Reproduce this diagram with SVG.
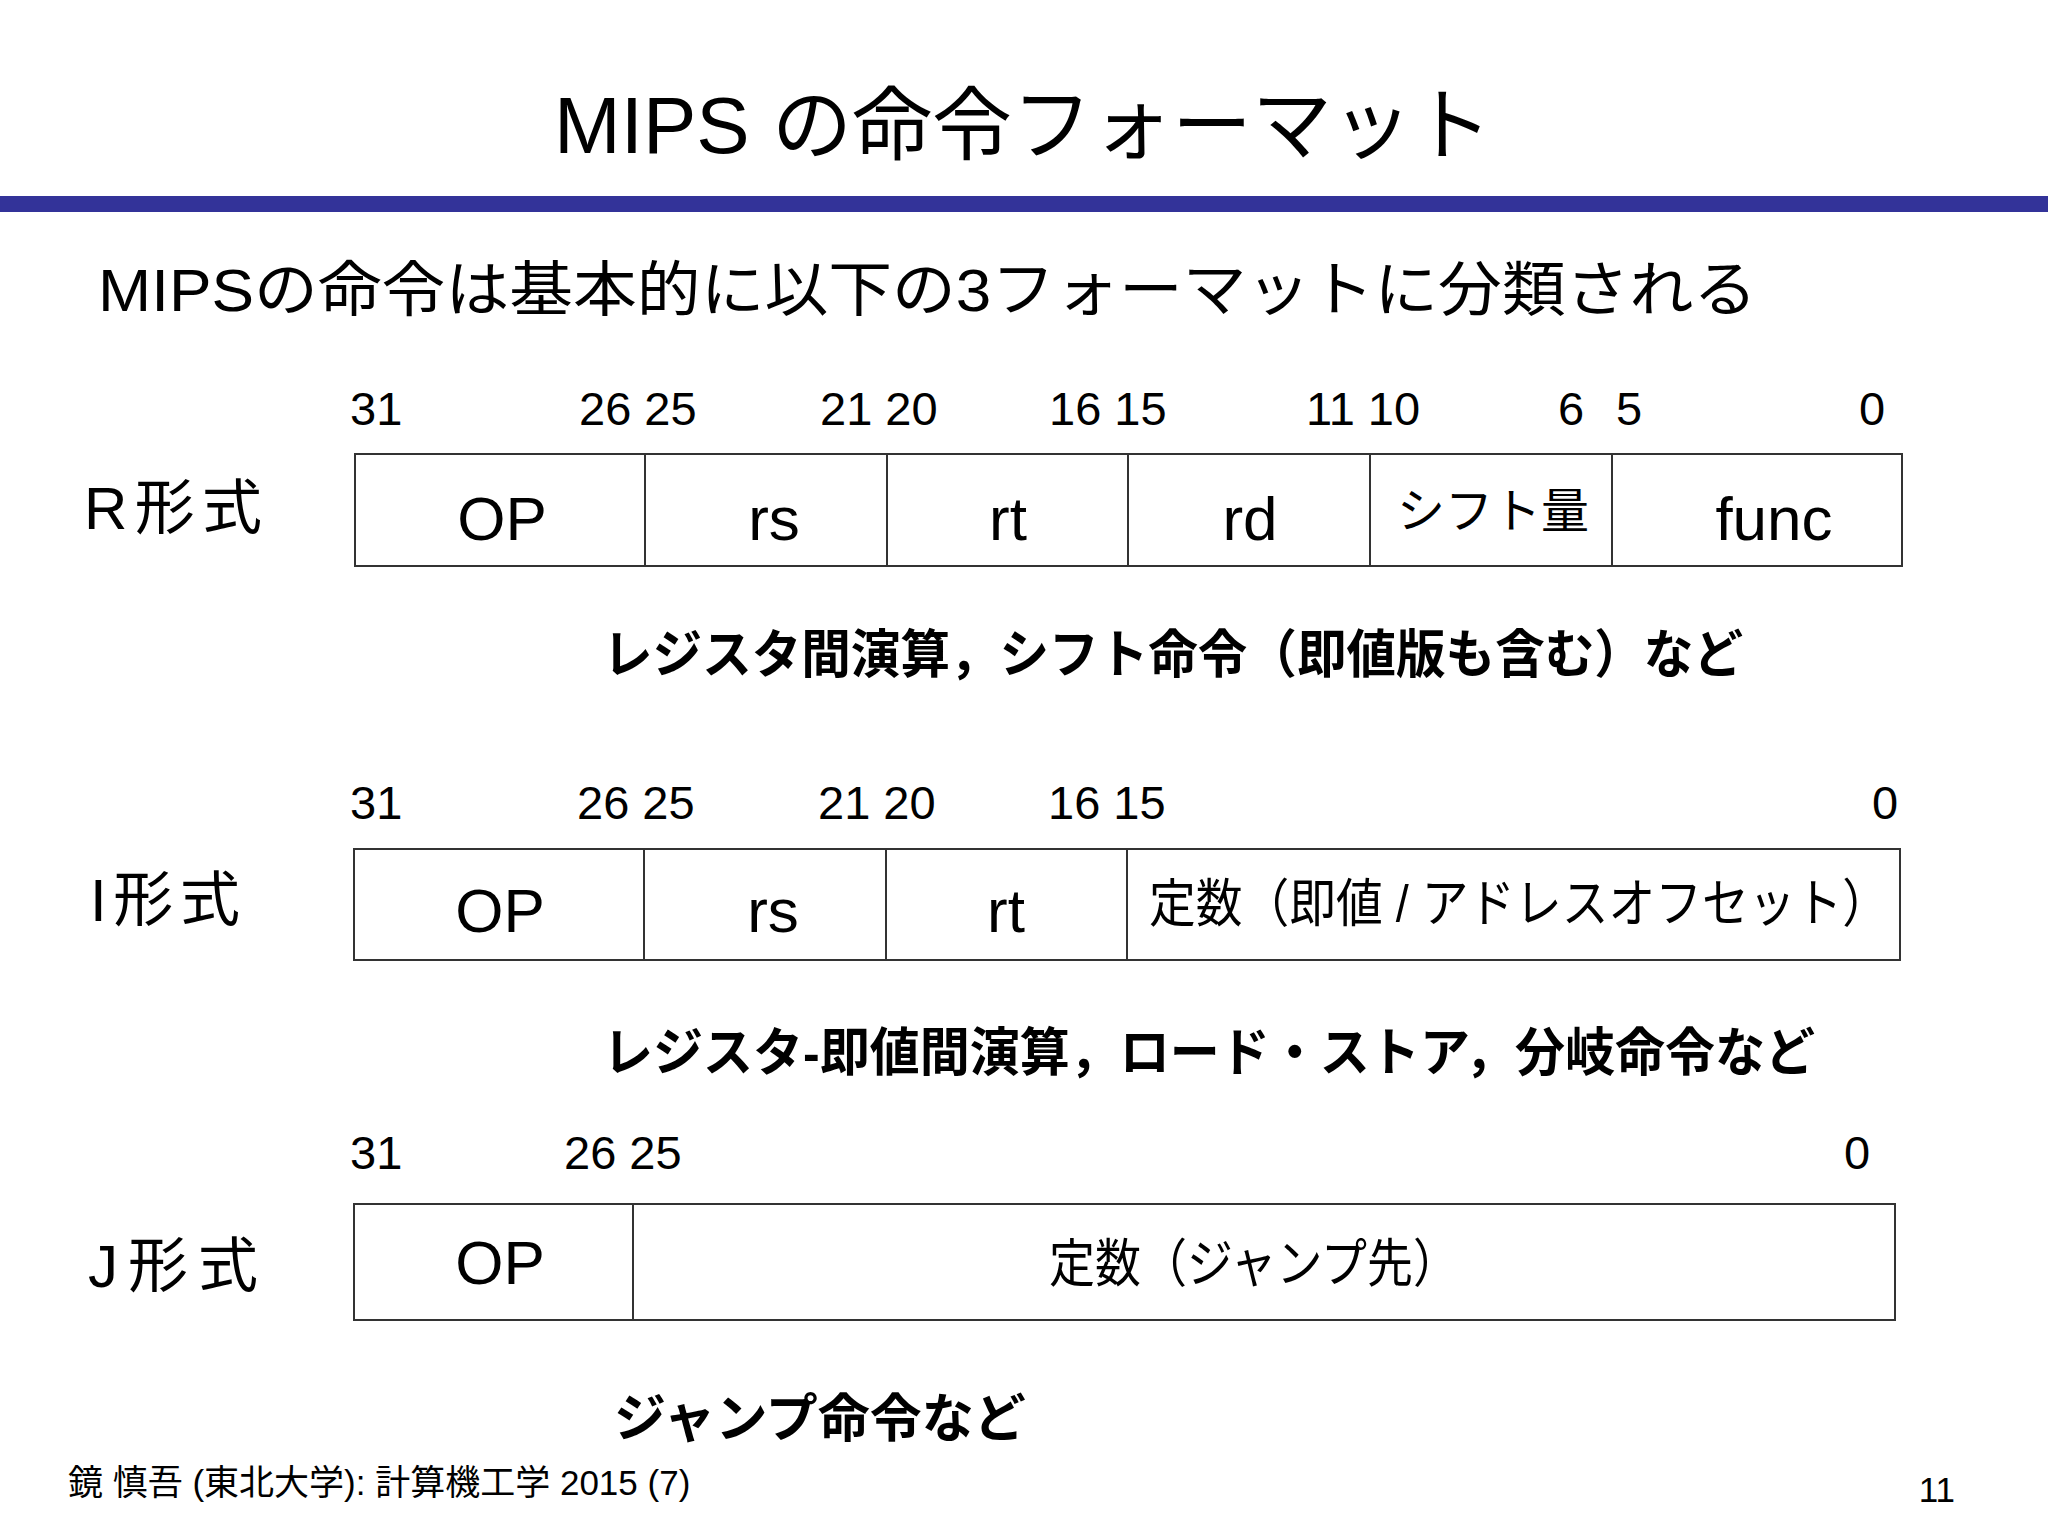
<svg xmlns="http://www.w3.org/2000/svg" width="2048" height="1536" viewBox="0 0 2048 1536">
<style>
text{font-family:"Liberation Sans","Noto Sans CJK JP",sans-serif;fill:#000}
.num{font-size:47px}
.lbl{font-size:60px}
.cell{font-size:62px;text-anchor:middle}
.cap{font-size:52px;font-weight:bold}
.box{fill:#fff;stroke:#333;stroke-width:2}
.sep{stroke:#333;stroke-width:2}
</style>
<rect width="2048" height="1536" fill="#fff"/>
<text x="1023" y="153" font-size="80" text-anchor="middle">MIPS の命令フォーマット</text>
<rect x="0" y="196" width="2048" height="16" fill="#333399"/>
<text x="98" y="311" font-size="60" textLength="1659" lengthAdjust="spacingAndGlyphs">MIPSの命令は基本的に以下の3フォーマットに分類される</text>
<g id="r-format">
<text class="num" x="350" y="425">31</text><text class="num" x="579" y="425">26 25</text><text class="num" x="820" y="425">21 20</text><text class="num" x="1049" y="425">16 15</text><text class="num" x="1306" y="425">11 10</text><text class="num" x="1558" y="425">6</text><text class="num" x="1616" y="425">5</text><text class="num" x="1859" y="425">0</text>
<text class="lbl" x="84" y="529" textLength="178">R形式</text>
<rect class="box" x="355" y="454" width="1547" height="112"/>
<line class="sep" x1="645" y1="454" x2="645" y2="566"/><line class="sep" x1="887" y1="454" x2="887" y2="566"/><line class="sep" x1="1128" y1="454" x2="1128" y2="566"/><line class="sep" x1="1370" y1="454" x2="1370" y2="566"/><line class="sep" x1="1612" y1="454" x2="1612" y2="566"/>
<text class="cell" x="502" y="540">OP</text><text class="cell" x="774" y="540">rs</text><text class="cell" x="1008" y="540">rt</text><text class="cell" x="1250" y="540">rd</text><text x="1493" y="528" font-size="48" text-anchor="middle">シフト量</text><text class="cell" x="1774" y="540">func</text>
<text class="cap" x="603" y="673" textLength="1140" lengthAdjust="spacingAndGlyphs">レジスタ間演算，シフト命令（即値版も含む）など</text>
</g>
<g id="i-format">
<text class="num" x="350" y="819">31</text><text class="num" x="577" y="819">26 25</text><text class="num" x="818" y="819">21 20</text><text class="num" x="1048" y="819">16 15</text><text class="num" x="1872" y="819">0</text>
<text class="lbl" x="90" y="921" textLength="150">I形式</text>
<rect class="box" x="354" y="849" width="1546" height="111"/>
<line class="sep" x1="644" y1="849" x2="644" y2="960"/><line class="sep" x1="886" y1="849" x2="886" y2="960"/><line class="sep" x1="1127" y1="849" x2="1127" y2="960"/>
<text class="cell" x="500" y="932">OP</text><text class="cell" x="773" y="932">rs</text><text class="cell" x="1006" y="932">rt</text>
<text x="1149" y="922" font-size="52" textLength="740" lengthAdjust="spacingAndGlyphs">定数（即値 / アドレスオフセット）</text>
<text class="cap" x="603" y="1071" textLength="1212" lengthAdjust="spacingAndGlyphs">レジスタ-即値間演算，ロード・ストア，分岐命令など</text>
</g>
<g id="j-format">
<text class="num" x="350" y="1169">31</text><text class="num" x="564" y="1169">26 25</text><text class="num" x="1844" y="1169">0</text>
<text class="lbl" x="88" y="1287" textLength="170">J形式</text>
<rect class="box" x="354" y="1204" width="1541" height="116"/>
<line class="sep" x1="633" y1="1204" x2="633" y2="1320"/>
<text class="cell" x="500" y="1284">OP</text>
<text x="1049" y="1282" font-size="52" textLength="410" lengthAdjust="spacingAndGlyphs">定数（ジャンプ先）</text>
<text class="cap" x="614" y="1437">ジャンプ命令など</text>
</g>
<text x="68" y="1495" font-size="35" font-family="Liberation Serif,Noto Sans CJK JP,serif">鏡 慎吾 (東北大学): 計算機工学 2015 (7)</text>
<text x="1955" y="1502" font-size="35" text-anchor="end" font-family="Liberation Serif,serif">11</text>
</svg>
